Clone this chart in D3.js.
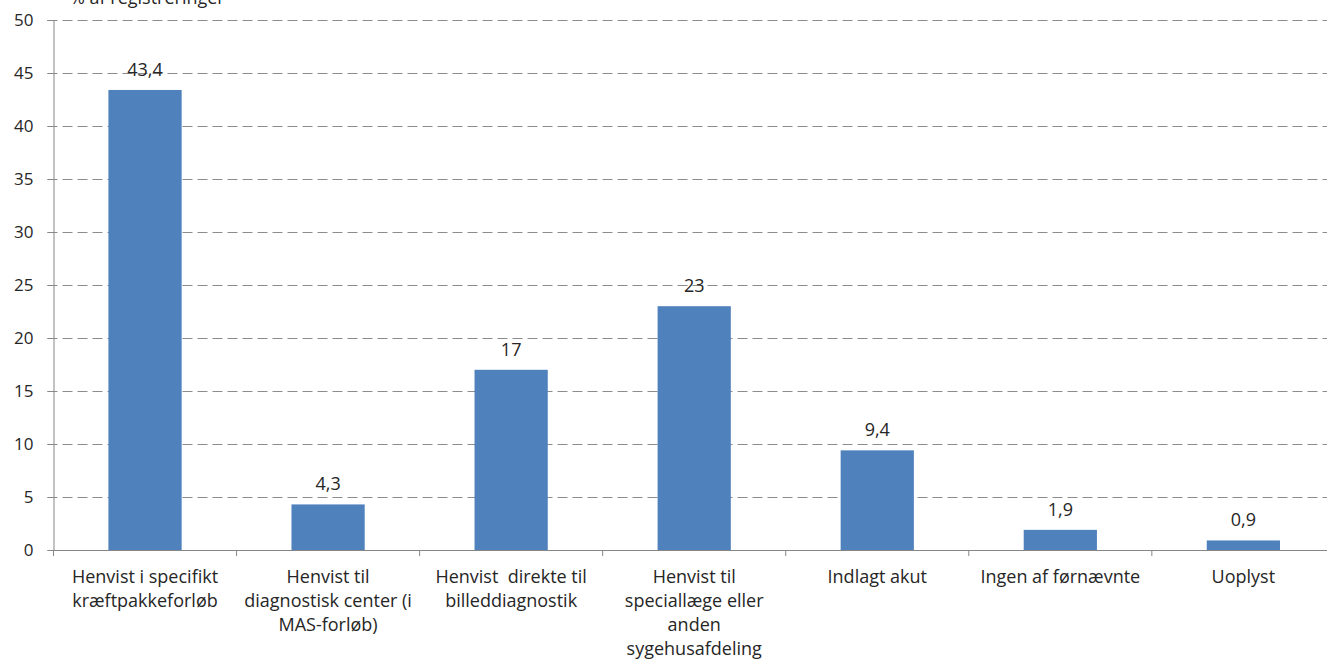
<!DOCTYPE html>
<html><head><meta charset="utf-8">
<script src="https://cdn.jsdelivr.net/npm/d3@7"></script>
<style>body{margin:0;background:#fff;} text{font-family:"Open Sans", sans-serif;}</style>
</head><body>
<svg id="c" width="1327" height="663"></svg>
<script>
const categories = [
  "Henvist i specifikt\nkræftpakkeforløb",
  "Henvist til\ndiagnostisk center (i\nMAS-forløb)",
  "Henvist  direkte til\nbilleddiagnostik",
  "Henvist til\nspeciallæge eller\nanden\nsygehusafdeling",
  "Indlagt akut",
  "Ingen af førnævnte",
  "Uoplyst"
];
const values = [43.4, 4.3, 17, 23, 9.4, 1.9, 0.9];
const valueLabels = ["43,4", "4,3", "17", "23", "9,4", "1,9", "0,9"];
const yTicks = [0, 5, 10, 15, 20, 25, 30, 35, 40, 45, 50];
const yTitle = "% af registreringer";

(function(){
const FS = 18, YFS = 17;
const svg = d3.select("#c");
const pl = 53.5, pr = 1334.9, pt = 20, pb = 550;
const x = d3.scaleBand().domain(d3.range(categories.length)).range([pl, pr]).paddingInner(0.6).paddingOuter(0.3);
const xb = d3.scaleBand().domain(d3.range(categories.length)).range([pl, pr]);
const y = d3.scaleLinear().domain([0, 50]).range([pb, pt]);

svg.append("g").selectAll("line").data(yTicks.filter(d => d > 0)).join("line")
  .attr("x1", pl - 6).attr("x2", 1327)
  .attr("y1", d => Math.round(y(d)) + 0.5).attr("y2", d => Math.round(y(d)) + 0.5)
  .attr("stroke", "#8c8c8c").attr("stroke-width", 1).attr("stroke-dasharray", "10,5");

svg.append("g").selectAll("rect").data(values).join("rect")
  .attr("x", (d, i) => x(i)).attr("width", x.bandwidth())
  .attr("y", d => y(d)).attr("height", d => y(0) - y(d))
  .attr("fill", "#4f81bd");

const ya = svg.append("g").attr("transform", `translate(${pl},0)`)
  .call(d3.axisLeft(y).tickValues(yTicks).tickSize(6).tickPadding(14).tickFormat(d3.format("d")));
ya.select(".domain").attr("stroke", "#868686");
ya.selectAll(".tick line").attr("stroke", "#868686");
ya.selectAll(".tick text").attr("font-size", YFS).attr("fill", "#262626").style("font-family", "'Open Sans', sans-serif");

const xa = svg.append("g").attr("transform", `translate(0,${pb})`)
  .call(d3.axisBottom(xb).tickValues([]).tickSizeOuter(0));
xa.select(".domain").attr("stroke", "#868686");
svg.append("g").selectAll("line").data(d3.range(categories.length + 1)).join("line")
  .attr("x1", i => pl + i * xb.step()).attr("x2", i => pl + i * xb.step())
  .attr("y1", pb).attr("y2", pb + 6).attr("stroke", "#868686");

const cl = svg.append("g").selectAll("text").data(categories).join("text")
  .attr("x", (d, i) => xb(i) + xb.bandwidth() / 2).attr("y", 583)
  .attr("text-anchor", "middle").attr("font-size", FS).attr("fill", "#262626");
cl.each(function(d) {
  const cx = d3.select(this).attr("x");
  d3.select(this).selectAll("tspan").data(d.split("\n")).join("tspan")
    .attr("x", cx).attr("dy", (l, j) => j === 0 ? 0 : 24)
    .style("white-space", "pre").text(l => l);
});

svg.append("g").selectAll("text").data(values).join("text")
  .attr("x", (d, i) => x(i) + x.bandwidth() / 2).attr("y", d => y(d) - 14)
  .attr("text-anchor", "middle").attr("font-size", FS).attr("fill", "#262626")
  .text((d, i) => valueLabels[i]);

svg.append("text").attr("x", 70).attr("y", 4).attr("font-size", FS).attr("fill", "#262626").text(yTitle);
})();
</script>
</body></html>
